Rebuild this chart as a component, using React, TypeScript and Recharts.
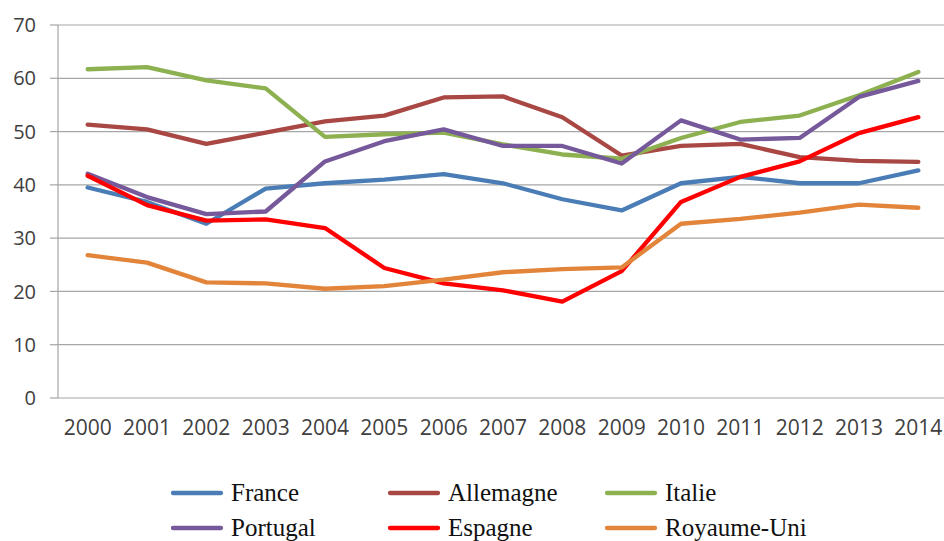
import React from 'react';
import { LineChart, Line, XAxis, YAxis, CartesianGrid, Legend } from 'recharts';

const years = ['2000','2001','2002','2003','2004','2005','2006','2007','2008','2009','2010','2011','2012','2013','2014'];
const france = [39.5, 36.8, 32.7, 39.3, 40.3, 41.0, 42.0, 40.3, 37.3, 35.2, 40.3, 41.5, 40.3, 40.3, 42.7];
const allemagne = [51.3, 50.4, 47.7, 49.8, 51.9, 53.0, 56.4, 56.6, 52.7, 45.5, 47.3, 47.7, 45.2, 44.5, 44.3];
const italie = [61.7, 62.1, 59.6, 58.1, 49.0, 49.5, 49.8, 47.6, 45.7, 44.9, 48.8, 51.8, 53.0, 56.8, 61.2];
const portugal = [42.1, 37.7, 34.5, 35.0, 44.4, 48.2, 50.4, 47.3, 47.3, 44.0, 52.1, 48.5, 48.8, 56.5, 59.5];
const espagne = [41.7, 36.2, 33.3, 33.5, 31.9, 24.4, 21.5, 20.2, 18.1, 23.8, 36.8, 41.5, 44.4, 49.7, 52.7];
const royaumeUni = [26.8, 25.4, 21.7, 21.5, 20.5, 21.0, 22.2, 23.6, 24.2, 24.5, 32.7, 33.6, 34.8, 36.3, 35.7];
const yTicks = [0, 10, 20, 30, 40, 50, 60, 70];

const series = [
  { key: 'France', values: france, color: '#4A7DB5' },
  { key: 'Allemagne', values: allemagne, color: '#A84743' },
  { key: 'Italie', values: italie, color: '#8DB050' },
  { key: 'Portugal', values: portugal, color: '#76599A' },
  { key: 'Espagne', values: espagne, color: '#FF0000' },
  { key: 'Royaume-Uni', values: royaumeUni, color: '#E2853A' },
];

const data = years.map((y, i) => {
  const row: Record<string, number | string> = { idx: i, year: y };
  series.forEach((s) => { row[s.key] = s.values[i]; });
  return row;
});

const boundaryTicks = Array.from({ length: years.length + 1 }, (_, i) => i - 0.5);
const centerTicks = years.map((_, i) => i);

const gridColor = '#A6A6A6';
const textColor = '#404040';

const LegendContent = () => (
  <svg width={660} height={70}>
    {series.map((s, i) => {
      const cx = (i % 3) * 217;
      const cy = Math.floor(i / 3) * 35 + 18;
      return (
        <g key={s.key}>
          <line x1={cx + 2} y1={cy} x2={cx + 50} y2={cy} stroke={s.color} strokeWidth={4.3} strokeLinecap="round" />
          <text x={cx + 60} y={cy + 8} fontFamily="'Liberation Serif', 'Times New Roman', serif" fontSize={25} fill="#111">{s.key}</text>
        </g>
      );
    })}
  </svg>
);

export default function App() {
  return (
    <div style={{ position: 'absolute', left: 0, top: 0, width: 944, height: 541, overflow: 'hidden', background: '#fff' }}>
      <LineChart width={960} height={541} data={data} margin={{ top: 25, right: 12, left: 0, bottom: 0 }}>
        <CartesianGrid xAxisId="b" horizontal={true} vertical={false} stroke={gridColor} strokeWidth={1.2} />
        <XAxis
          xAxisId="b"
          dataKey="idx"
          type="number"
          domain={[-0.5, 14.5]}
          ticks={boundaryTicks}
          interval={0}
          height={0}
          tickSize={8}
          tickFormatter={() => ''}
          axisLine={{ stroke: gridColor, strokeWidth: 1.2 }}
          tickLine={{ stroke: gridColor, strokeWidth: 1.2 }}
        />
        <XAxis
          xAxisId="m"
          dataKey="idx"
          type="number"
          domain={[-0.5, 14.5]}
          ticks={centerTicks}
          interval={0}
          height={143}
          tickSize={8}
          tickMargin={14}
          axisLine={false}
          tickLine={false}
          tickFormatter={(v: number) => years[v]}
          tick={{ fill: textColor, fontSize: 21, fontFamily: '"Open Sans", sans-serif' }}
        />
        <YAxis
          domain={[0, 70]}
          ticks={yTicks}
          interval={0}
          width={58}
          tickSize={8}
          tickMargin={14}
          axisLine={{ stroke: gridColor, strokeWidth: 1.2 }}
          tickLine={{ stroke: gridColor, strokeWidth: 1.2 }}
          tick={{ fill: textColor, fontSize: 20, fontFamily: '"Open Sans", sans-serif' }}
        />
        {series.map((s) => (
          <Line
            key={s.key}
            xAxisId="m"
            type="linear"
            dataKey={s.key}
            stroke={s.color}
            strokeWidth={4.3}
            strokeLinecap="round"
            strokeLinejoin="round"
            dot={false}
            isAnimationActive={false}
          />
        ))}
        <Legend
          layout="horizontal"
          verticalAlign="middle"
          align="center"
          content={<LegendContent />}
          wrapperStyle={{ top: 475, left: 171, width: 660, height: 70 }}
        />
      </LineChart>
    </div>
  );
}
